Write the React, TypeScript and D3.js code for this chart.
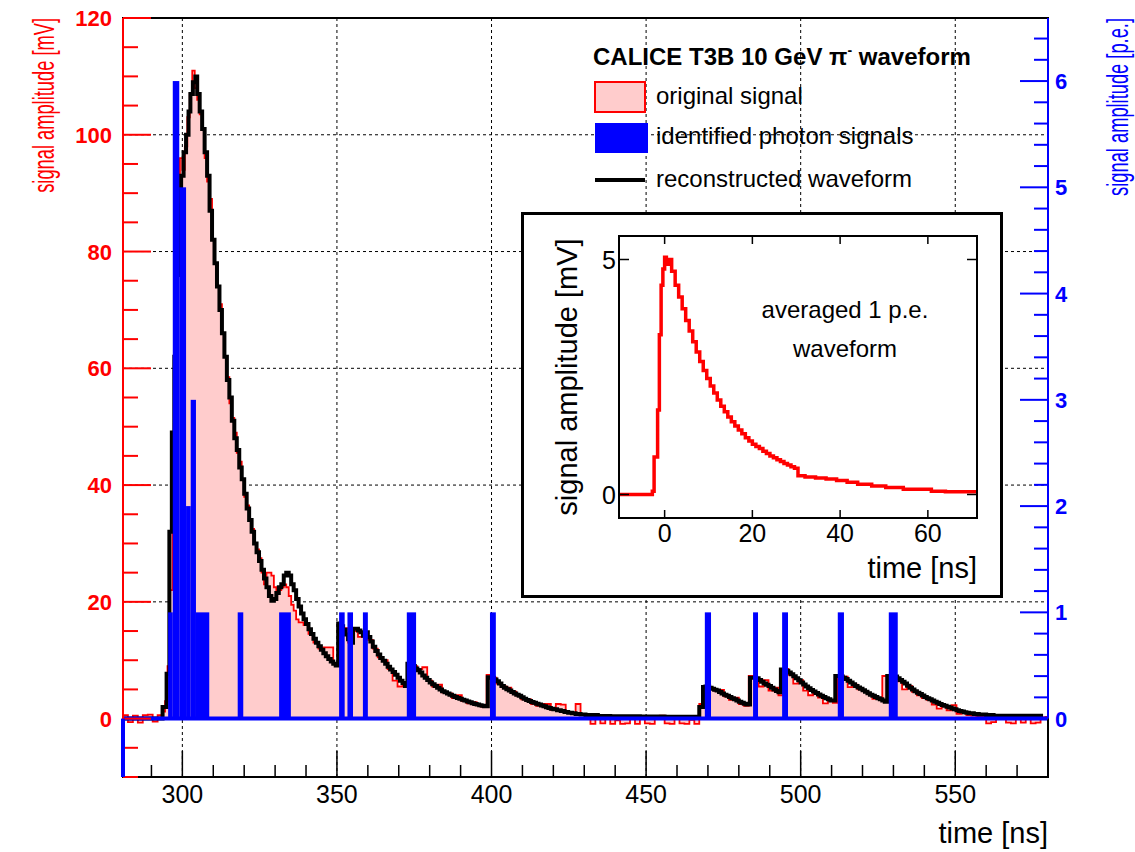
import React from 'react';
import * as d3 from 'd3';

const W = 1135;
const H = 852;
const FONT = '"Liberation Sans", Arial, Helvetica, sans-serif';

// ---------- data ----------
const timeRange: [number, number] = [280.8, 580];
const mvRange: [number, number] = [-10, 120];
const mvPerPe = 18.2;

const xTicks = [300, 350, 400, 450, 500, 550];
const xMinorTicks = [290, 310, 320, 330, 340, 360, 370, 380, 390, 410, 420, 430, 440, 460, 470, 480, 490, 510, 520, 530, 540, 560, 570];
const yLeftTicks = [0, 20, 40, 60, 80, 100, 120];
const yLeftMinor = [-10, -5, 5, 10, 15, 25, 30, 35, 45, 50, 55, 65, 70, 75, 85, 90, 95, 105, 110, 115];
const yRightTicks = [0, 1, 2, 3, 4, 5, 6];
const yRightMinor = [0.2, 0.4, 0.6, 0.8, 1.2, 1.4, 1.6, 1.8, 2.2, 2.4, 2.6, 2.8, 3.2, 3.4, 3.6, 3.8, 4.2, 4.4, 4.6, 4.8, 5.2, 5.4, 5.6, 5.8, 6.2, 6.4];

// original signal histogram [bin start ns, mV]
const originalSignal: [number, number][] = [
  [280.8, 0.6], [282.4, -0.6], [284.0, 0.5], [285.6, -0.7], [287.2, 0.6], [288.8, 0.7], [290.4, -0.5], [292.0, 0.6],
  [293.6, 1.2], [294.4, 3.0], [295.2, 9.0], [296.0, 22.0], [296.8, 33.0], [297.6, 55.0], [298.4, 76.0], [299.2, 96.0],
  [300.0, 94.0], [300.8, 98.0], [301.6, 103.0], [302.4, 107.0], [303.2, 111.0], [304.0, 108.0], [304.8, 106.0], [305.6, 103.5],
  [306.4, 101.0], [307.2, 96.0], [308.0, 92.0], [308.8, 89.0], [309.6, 82.0], [310.4, 78.0], [311.2, 74.0], [312.0, 71.0],
  [312.8, 66.0], [313.6, 62.0], [314.4, 58.5], [315.2, 54.0], [316.0, 51.5], [316.8, 49.0], [317.6, 45.5], [318.4, 44.0],
  [319.2, 41.0], [320.0, 38.0], [320.8, 36.5], [321.6, 34.0], [322.4, 32.5], [323.2, 30.0], [324.0, 29.0], [324.8, 27.5],
  [325.6, 25.0], [326.4, 23.0], [327.2, 25.0], [328.0, 25.0], [328.8, 24.5], [329.6, 22.5], [330.4, 22.0], [331.2, 22.0],
  [332.0, 22.5], [332.8, 23.0], [333.6, 22.5], [334.4, 21.0], [335.2, 19.5], [336.0, 18.5], [336.8, 17.0], [337.6, 16.5],
  [338.4, 16.5], [339.2, 16.0], [340.8, 14.5], [342.4, 13.0], [344.0, 12.0], [345.6, 12.2], [347.2, 12.2], [348.8, 9.5],
  [350.4, 15.0], [352.0, 15.5], [353.6, 13.0], [355.2, 15.0], [356.8, 14.0], [358.4, 14.5], [360.0, 13.5], [361.6, 12.0],
  [363.2, 10.5], [364.8, 10.0], [366.4, 8.5], [368.0, 6.5], [369.6, 5.5], [371.2, 6.0], [372.8, 9.5], [374.4, 9.0],
  [376.0, 8.5], [377.6, 8.8], [379.2, 6.5], [380.8, 5.5], [382.4, 5.8], [384.0, 4.5], [385.6, 4.3], [387.2, 3.5],
  [388.8, 4.0], [390.4, 3.0], [392.0, 2.6], [393.6, 2.8], [395.2, 2.3], [396.8, 2.0], [398.4, 7.5], [400.0, 7.0],
  [401.6, 6.0], [403.2, 5.5], [404.8, 5.3], [406.4, 4.6], [408.0, 4.0], [409.6, 3.3], [411.2, 3.3], [412.8, 2.5],
  [414.4, 2.2], [416.0, 2.5], [417.6, 2.5], [419.2, 1.5], [420.8, 2.5], [422.4, 2.4], [424.0, 1.0], [425.6, 0.8],
  [427.2, 2.5], [428.8, 0.6], [430.4, 0.3], [432.0, -0.9], [433.6, 0.2], [435.2, -0.8], [436.8, 0.3], [438.4, -0.9],
  [440.0, -0.3], [441.6, -0.9], [443.2, -0.8], [444.8, 0.4], [446.4, -0.9], [448.0, 0.2], [449.6, -0.8], [451.2, -0.9],
  [452.8, 0.3], [454.4, 0.5], [456.0, -0.8], [457.6, -0.9], [459.2, 0.2], [460.8, -0.8], [462.4, -0.9], [464.0, -0.2],
  [465.6, -0.9], [467.2, 2.5], [468.8, 5.3], [470.4, 5.0], [472.0, 4.8], [473.6, 4.9], [475.2, 3.8], [476.8, 3.2],
  [478.4, 3.6], [480.0, 2.5], [481.6, 2.2], [483.2, 7.3], [484.8, 6.9], [486.4, 5.5], [488.0, 6.6], [489.6, 4.8],
  [491.2, 5.3], [492.8, 4.0], [494.4, 8.5], [496.0, 7.5], [497.6, 6.0], [499.2, 6.6], [500.8, 4.8], [502.4, 4.0],
  [504.0, 4.4], [505.6, 3.6], [507.2, 2.6], [508.8, 3.0], [510.4, 2.7], [512.0, 7.4], [513.6, 7.2], [515.2, 5.4],
  [516.8, 5.8], [518.4, 5.0], [520.0, 4.7], [521.6, 4.2], [523.2, 3.4], [524.8, 3.5], [526.4, 7.3], [528.0, 7.0],
  [529.6, 7.3], [531.2, 6.4], [532.8, 5.0], [534.4, 5.6], [536.0, 4.6], [537.6, 4.0], [539.2, 3.5], [540.8, 3.2],
  [542.4, 2.4], [544.0, 1.7], [545.6, 2.3], [547.2, 1.4], [548.8, 2.3], [550.4, 0.8], [552.0, 1.0], [553.6, 0.6],
  [555.2, 0.5], [556.8, 0.4], [558.4, 0.3], [560.0, -0.8], [561.6, -0.6], [563.2, 0.3], [564.8, 0.2], [566.4, -0.7],
  [568.0, -0.8], [569.6, 0.2], [571.2, -0.7], [572.8, 0.3], [574.4, -0.8], [576.0, -0.7], [577.6, 0.2], [579.2, 0.3],
];

// reconstructed waveform [ns, mV]
const reconstructedWaveform: [number, number][] = [
  [280.8, 0], [293.6, 2.0], [294.9, 7.7], [295.8, 32], [296.6, 49], [297.4, 62], [298.2, 76], [299.0, 88], [299.6, 93],
  [300.4, 97], [301.2, 100], [302.0, 104], [302.6, 107], [303.4, 109], [304.2, 110], [304.8, 107], [305.6, 104],
  [306.4, 101], [307.2, 97], [308.0, 93], [308.8, 87], [309.6, 82], [310.4, 78], [311.2, 74], [312.0, 70], [312.8, 66],
  [313.6, 62], [314.4, 58], [315.2, 55], [316.0, 51], [316.8, 48], [317.6, 46], [318.4, 43], [319.2, 41], [320.0, 38.5],
  [320.8, 36], [321.6, 34], [322.4, 32], [323.2, 30], [324.0, 28.5], [324.8, 27], [325.6, 25.5], [326.4, 24], [327.2, 22.5],
  [328.0, 21], [328.8, 20.2], [329.6, 20.5], [330.4, 21.5], [331.2, 22.5], [332.0, 23], [332.8, 24.5], [333.6, 25],
  [334.4, 24.5], [335.2, 23], [336.0, 22], [336.8, 20.5], [337.6, 19.2], [338.4, 18], [339.2, 17], [340.0, 16.2],
  [340.8, 15.3], [341.6, 14.5], [342.4, 13.7], [343.2, 13], [344.0, 12.4], [344.8, 11.8], [345.6, 11.2], [346.4, 10.7],
  [347.2, 10.2], [348.0, 9.8], [348.8, 9.4], [349.6, 9.1], [350.4, 16.3], [351.2, 15.8], [352.0, 15.2], [352.8, 14.4],
  [353.6, 13.6], [354.4, 13.0], [355.2, 15.4], [356.0, 15.4], [356.8, 15.1], [357.6, 14.8], [358.4, 14.2], [359.2, 14.8],
  [360.0, 14.0], [360.8, 13.2], [361.6, 12.3], [362.4, 11.6], [363.2, 11.0], [364.0, 10.4], [364.8, 9.9], [365.6, 9.4],
  [366.4, 8.9], [367.2, 8.4], [368.0, 8.0], [368.8, 7.5], [369.6, 7.0], [370.4, 6.5], [371.2, 6.1], [372.0, 5.6],
  [372.8, 9.4], [373.6, 9.3], [374.4, 9.0], [375.2, 8.6], [376.0, 8.3], [376.8, 7.9], [377.6, 7.4], [378.4, 7.0],
  [379.2, 6.6], [380.0, 6.2], [380.8, 5.9], [381.6, 5.6], [382.4, 5.3], [383.2, 5.0], [384.0, 4.7], [384.8, 4.5],
  [385.6, 4.3], [386.4, 4.1], [387.2, 3.9], [388.0, 3.7], [388.8, 3.55], [389.6, 3.4], [390.4, 3.25], [391.2, 3.1],
  [392.0, 2.95], [392.8, 2.8], [393.6, 2.65], [394.4, 2.5], [395.2, 2.4], [396.0, 2.3], [396.8, 2.2], [397.6, 2.1],
  [398.8, 7.1], [400.0, 7.0], [400.8, 6.7], [401.6, 6.4], [402.4, 6.0], [403.2, 5.6], [404.0, 5.3], [404.8, 5.05],
  [405.6, 4.8], [406.4, 4.55], [407.2, 4.3], [408.0, 4.1], [408.8, 3.9], [409.6, 3.65], [410.4, 3.4], [411.2, 3.2],
  [412.0, 3.0], [412.8, 2.85], [413.6, 2.7], [414.4, 2.55], [415.2, 2.4], [416.0, 2.25], [416.8, 2.1], [417.6, 1.95],
  [418.4, 1.8], [419.2, 1.7], [420.0, 1.6], [421.2, 1.45], [422.4, 1.3], [423.6, 1.15], [424.8, 1.0], [426.0, 0.9],
  [427.2, 0.8], [428.8, 0.7], [430.4, 0.6], [434.4, 0.45], [438.4, 0.4], [448.0, 0.35], [456.0, 0.3], [467.2, 2.0],
  [468.4, 5.4], [469.2, 5.5], [470.4, 5.3], [471.2, 5.1], [472.0, 4.95], [472.8, 4.8], [473.6, 4.55], [474.4, 4.3],
  [475.2, 4.1], [476.0, 3.9], [476.8, 3.7], [477.6, 3.5], [478.4, 3.3], [479.2, 3.1], [480.0, 2.9], [480.8, 2.7],
  [481.6, 2.55], [482.4, 2.4], [483.6, 7.0], [485.6, 6.9], [486.4, 6.6], [487.2, 6.3], [488.0, 6.0], [488.8, 5.8],
  [489.6, 5.6], [490.4, 5.3], [491.2, 5.0], [492.0, 4.75], [492.8, 4.5], [493.6, 8.4], [495.2, 8.2], [496.0, 7.9],
  [496.8, 7.6], [497.6, 7.25], [498.4, 6.9], [499.2, 6.55], [500.0, 6.2], [500.8, 5.85], [501.6, 5.5], [502.4, 5.2],
  [503.2, 4.9], [504.0, 4.65], [504.8, 4.4], [505.6, 4.15], [506.4, 3.9], [507.2, 3.7], [508.0, 3.5], [508.8, 3.3],
  [509.6, 3.1], [511.2, 7.3], [512.8, 7.2], [513.6, 7.0], [514.4, 6.8], [515.2, 6.5], [516.0, 6.2], [516.8, 5.9],
  [517.6, 5.6], [518.4, 5.35], [519.2, 5.1], [520.0, 4.85], [520.8, 4.6], [521.6, 4.35], [522.4, 4.1], [523.2, 3.9],
  [524.0, 3.7], [524.8, 3.5], [525.6, 3.3], [526.4, 3.1], [527.2, 2.9], [528.0, 7.3], [530.4, 7.2], [531.2, 6.9],
  [532.0, 6.6], [532.8, 6.3], [533.6, 6.0], [534.4, 5.65], [535.2, 5.3], [536.0, 5.0], [536.8, 4.7], [537.6, 4.45],
  [538.4, 4.2], [539.2, 3.95], [540.0, 3.7], [540.8, 3.5], [541.6, 3.3], [542.4, 3.1], [543.2, 2.9], [544.0, 2.7],
  [544.8, 2.5], [545.6, 2.35], [546.4, 2.2], [547.2, 2.05], [548.0, 1.9], [548.8, 1.75], [549.6, 1.6], [550.4, 1.45],
  [551.2, 1.3], [552.0, 1.2], [552.8, 1.1], [553.6, 1.0], [554.4, 0.9], [556.0, 0.8], [557.6, 0.7], [560.0, 0.6],
  [562.4, 0.5], [578.4, 0.5],
];

// identified photon signals [start ns, end ns, p.e.]
const photonSignals: [number, number, number][] = [
  [295.4, 296.9, 1], [296.9, 299.0, 6], [299.0, 301.2, 5], [301.2, 302.7, 2], [302.7, 304.4, 3], [304.4, 308.7, 1],
  [317.9, 319.7, 1], [331.3, 335.1, 1], [350.7, 352.5, 1], [353.4, 355.2, 1], [358.4, 360.0, 1], [372.6, 375.6, 1],
  [399.5, 401.4, 1], [469.0, 471.0, 1], [484.6, 486.2, 1], [494.0, 495.9, 1], [512.0, 514.0, 1], [528.5, 531.4, 1],
];

// inset: averaged 1 p.e. waveform [ns, mV]
const insetTimeRange: [number, number] = [-10.4, 71.2];
const insetMvRange: [number, number] = [-0.5, 5.5];
const insetXTicks = [0, 20, 40, 60];
const insetYTicks = [0, 5];
const averagedPulse: [number, number][] = [
  [-10.4, 0.0], [-2.8, 0.07], [-2.4, 0.8], [-1.6, 1.8], [-1.2, 3.4], [-0.8, 4.45], [-0.4, 4.8], [0.0, 5.05], [0.4, 4.9],
  [0.8, 5.0], [1.6, 4.75], [2.4, 4.45], [3.2, 4.2], [4.0, 3.95], [4.8, 3.7], [5.6, 3.48], [6.4, 3.25], [7.2, 3.03],
  [8.0, 2.83], [8.8, 2.64], [9.6, 2.47], [10.4, 2.31], [11.2, 2.16], [12.0, 2.01], [12.8, 1.88], [13.6, 1.76],
  [14.4, 1.65], [15.2, 1.55], [16.0, 1.46], [16.8, 1.37], [17.6, 1.29], [18.4, 1.21], [19.2, 1.14], [20.0, 1.07],
  [20.8, 1.02], [21.6, 0.98], [22.4, 0.92], [23.2, 0.87], [24.0, 0.82], [24.8, 0.78], [25.6, 0.74], [26.4, 0.70],
  [27.2, 0.66], [28.0, 0.63], [28.8, 0.59], [29.6, 0.56], [30.4, 0.40], [32.0, 0.37], [34.4, 0.35], [36.8, 0.33],
  [39.2, 0.30], [41.6, 0.26], [44.0, 0.22], [47.2, 0.18], [50.4, 0.15], [54.4, 0.11], [60.8, 0.07], [64.0, 0.06],
];

const RED = '#ff0000';
const BLUE = '#0000ff';
const PINK = '#ffcccc';

export default function App() {
  const left = 123, right = 1048, top = 18, bottom = 777;
  const x = d3.scaleLinear().domain(timeRange).range([left, right]);
  const yL = d3.scaleLinear().domain(mvRange).range([bottom, top]);
  const yR = d3.scaleLinear().domain([mvRange[0] / mvPerPe, mvRange[1] / mvPerPe]).range([bottom, top]);

  const origPts: [number, number][] = [...originalSignal, [timeRange[1], originalSignal[originalSignal.length - 1][1]]];
  const origArea = d3.area<[number, number]>().x(d => x(d[0])).y0(yL(0)).y1(d => yL(d[1])).curve(d3.curveStepAfter)(origPts) || '';
  const origLine = d3.line<[number, number]>().x(d => x(d[0])).y(d => yL(d[1])).curve(d3.curveStepAfter)(origPts) || '';
  const recoLine = d3.line<[number, number]>().x(d => x(d[0])).y(d => yL(d[1])).curve(d3.curveStepAfter)(reconstructedWaveform) || '';

  const xi = d3.scaleLinear().domain(insetTimeRange).range([619, 977]);
  const yi = d3.scaleLinear().domain(insetMvRange).range([518, 236]);
  const pulsePts: [number, number][] = [...averagedPulse, [insetTimeRange[1], averagedPulse[averagedPulse.length - 1][1]]];
  const pulseLine = d3.line<[number, number]>().x(d => xi(d[0])).y(d => yi(d[1])).curve(d3.curveStepAfter)(pulsePts) || '';

  const y0 = yL(0);

  return (
    <svg width={W} height={H} style={{ position: 'absolute', left: 0, top: 0, background: '#fff' }} fontFamily={FONT}>
      <rect x={0} y={0} width={W} height={H} fill="#fff" />
      {/* grid */}
      <g stroke="#000" strokeWidth={1} strokeDasharray="3,3">
        {xTicks.map(t => <line key={'gx' + t} x1={x(t)} x2={x(t)} y1={top} y2={bottom} />)}
        {yLeftTicks.filter(v => v > 0 && v < 120).map(v => <line key={'gy' + v} x1={left} x2={right} y1={yL(v)} y2={yL(v)} />)}
      </g>
      {/* original signal */}
      <path d={origArea} fill={PINK} stroke="none" />
      <path d={origLine} fill="none" stroke={RED} strokeWidth={1.8} />
      {/* reconstructed */}
      <path d={recoLine} fill="none" stroke="#000" strokeWidth={4} />
      {/* photon signals */}
      <g fill={BLUE}>
        {photonSignals.map(([s, e, c], i) => (
          <rect key={'p' + i} x={x(s)} width={x(e) - x(s)} y={yR(c)} height={yR(0) - yR(c)} />
        ))}
      </g>
      <line x1={left} x2={right} y1={y0} y2={y0} stroke={BLUE} strokeWidth={4} />
      {/* frame */}
      <rect x={left} y={top} width={right - left} height={bottom - top} fill="none" stroke="#000" strokeWidth={2} />
      {/* x axis ticks */}
      <g stroke="#000" strokeWidth={1.5}>
        {xTicks.map(t => <line key={'xt' + t} x1={x(t)} x2={x(t)} y1={bottom} y2={bottom - 26} />)}
        {xMinorTicks.map(t => <line key={'xm' + t} x1={x(t)} x2={x(t)} y1={bottom} y2={bottom - 12} />)}
      </g>
      {xTicks.map(t => (
        <text key={'xl' + t} x={x(t)} y={803} fontSize={25} textAnchor="middle" fill="#000">{t}</text>
      ))}
      <text x={right} y={843} fontSize={29} textAnchor="end" fill="#000">time [ns]</text>
      {/* left axis (red) */}
      <g stroke={RED} strokeWidth={2}>
        <line x1={left} x2={left} y1={bottom} y2={top} />
        {yLeftTicks.map(v => <line key={'yt' + v} x1={left} x2={left + 28} y1={yL(v)} y2={yL(v)} />)}
        {yLeftMinor.map(v => <line key={'ym' + v} x1={left} x2={left + 15} y1={yL(v)} y2={yL(v)} />)}
      </g>
      <line x1={left} x2={left} y1={y0} y2={bottom} stroke={BLUE} strokeWidth={4} />
      {yLeftTicks.map(v => (
        <text key={'yl' + v} x={112} y={yL(v) + 8} fontSize={22} fontWeight="bold" textAnchor="end" fill={RED}>{v}</text>
      ))}
      <g transform={`translate(54,${top}) rotate(-90)`}>
        <text transform="scale(0.61,1)" fontSize={30} textAnchor="end" fill={RED}>signal amplitude [mV]</text>
      </g>
      {/* right axis (blue) */}
      <g stroke={BLUE} strokeWidth={2}>
        <line x1={right} x2={right} y1={yR(0)} y2={top} />
        {yRightTicks.map(v => <line key={'rt' + v} x1={right} x2={right - 28} y1={yR(v)} y2={yR(v)} />)}
        {yRightMinor.map(v => <line key={'rm' + v} x1={right} x2={right - 14} y1={yR(v)} y2={yR(v)} />)}
      </g>
      {yRightTicks.map(v => (
        <text key={'rl' + v} x={1055} y={yR(v) + 8} fontSize={22} fontWeight="bold" textAnchor="start" fill={BLUE}>{v}</text>
      ))}
      <g transform={`translate(1128,${top}) rotate(-90)`}>
        <text transform="scale(0.61,1)" fontSize={30} textAnchor="end" fill={BLUE}>signal amplitude [p.e.]</text>
      </g>
      {/* legend */}
      <text x={593} y={65} fontSize={24} fontWeight="bold" fill="#000">
        CALICE T3B 10 GeV π<tspan fontSize={14} dy={-10}>-</tspan><tspan dy={10}> waveform</tspan>
      </text>
      <rect x={595} y={82} width={50} height={30} fill={PINK} stroke={RED} strokeWidth={2} />
      <text x={656} y={104} fontSize={24} fill="#000">original signal</text>
      <rect x={595} y={123} width={53} height={30} fill={BLUE} />
      <text x={656} y={144} fontSize={24} fill="#000">identified photon signals</text>
      <line x1={595} x2={645} y1={180} y2={180} stroke="#000" strokeWidth={4} />
      <text x={656} y={187} fontSize={24} fill="#000">reconstructed waveform</text>
      {/* inset */}
      <rect x={522.5} y={213.5} width={479} height={383} fill="#fff" stroke="#000" strokeWidth={3} />
      <path d={pulseLine} fill="none" stroke={RED} strokeWidth={3.5} />
      <rect x={619} y={236} width={358} height={282} fill="none" stroke="#000" strokeWidth={2} />
      <g stroke="#000" strokeWidth={1.5}>
        {insetXTicks.map(t => (
          <g key={'ixt' + t}>
            <line x1={xi(t)} x2={xi(t)} y1={518} y2={510} />
            <line x1={xi(t)} x2={xi(t)} y1={236} y2={244} />
          </g>
        ))}
        {insetYTicks.map(v => (
          <g key={'iyt' + v}>
            <line x1={619} x2={629} y1={yi(v)} y2={yi(v)} />
            <line x1={977} x2={967} y1={yi(v)} y2={yi(v)} />
          </g>
        ))}
      </g>
      {insetXTicks.map(t => (
        <text key={'ixl' + t} x={xi(t)} y={542} fontSize={25} textAnchor="middle" fill="#000">{t}</text>
      ))}
      {insetYTicks.map(v => (
        <text key={'iyl' + v} x={616} y={yi(v) + 9} fontSize={25} textAnchor="end" fill="#000">{v}</text>
      ))}
      <text x={977} y={578} fontSize={29} textAnchor="end" fill="#000">time [ns]</text>
      <text transform={`translate(577,377) rotate(-90)`} fontSize={29} textAnchor="middle" fill="#000">signal amplitude [mV]</text>
      <text x={845} y={318} fontSize={24} textAnchor="middle" fill="#000">averaged 1 p.e.</text>
      <text x={845} y={357} fontSize={24} textAnchor="middle" fill="#000">waveform</text>
    </svg>
  );
}
